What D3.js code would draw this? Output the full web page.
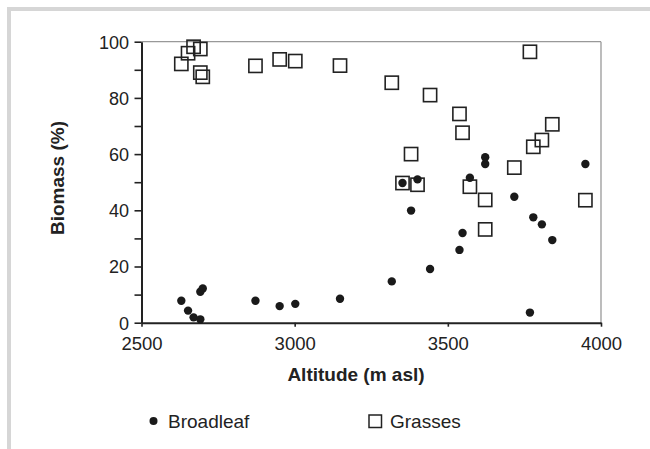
<!DOCTYPE html>
<html>
<head>
<meta charset="utf-8">
<script src="https://cdn.jsdelivr.net/npm/d3@7"></script>
<style>
  html, body { margin: 0; padding: 0; background: #ffffff; }
  svg { display: block; }
  text { font-family: "Liberation Sans", Arial, Helvetica, sans-serif; fill: #222; }
</style>
</head>
<body>
<script>
// Data: one site per entry
const altitude  = [2630, 2652, 2670, 2692, 2692, 2700, 2872, 2951, 3002, 3148, 3317, 3352, 3380, 3401, 3442, 3538, 3548, 3572, 3622, 3622, 3717, 3768, 3779, 3807, 3841, 3949];
const broadleaf = [7.8, 4.3, 1.9, 1.2, 11.0, 12.2, 7.8, 5.9, 6.7, 8.5, 14.7, 49.7, 39.9, 51.0, 19.1, 25.9, 31.9, 51.6, 56.5, 58.9, 44.8, 3.6, 37.5, 35.0, 29.4, 56.5];
const grasses   = [92.1, 95.9, 98.2, 97.4, 89.0, 87.5, 91.4, 93.7, 93.1, 91.5, 85.4, 49.7, 60.0, 49.1, 81.0, 74.3, 67.6, 48.4, 43.7, 33.2, 55.2, 96.4, 62.6, 65.0, 70.6, 43.6];
const xTicks = [2500, 3000, 3500, 4000];
const yTicks = [0, 10, 20, 30, 40, 50, 60, 70, 80, 90, 100];
const yLabelTicks = [0, 20, 40, 60, 80, 100];
const seriesNames = ["Broadleaf", "Grasses"];
const xTitle = "Altitude (m asl)";
const yTitle = "Biomass (%)";

const W = 650, H = 449;
const svg = d3.select("body").append("svg").attr("width", W).attr("height", H);

// outer frame bands
svg.append("rect").attr("x", 7).attr("y", 7).attr("width", W - 7).attr("height", 4).attr("fill", "#d6d6d6");
svg.append("rect").attr("x", 7).attr("y", 7).attr("width", 4).attr("height", H - 7).attr("fill", "#d6d6d6");

const x = d3.scaleLinear().domain([2500, 4000]).range([141.5, 601]);
const y = d3.scaleLinear().domain([0, 100]).range([322.7, 41.7]);

// top and right border of plot area
svg.append("line").attr("x1", x(2500)).attr("x2", x(4000)).attr("y1", y(100)).attr("y2", y(100))
  .attr("stroke", "#999").attr("stroke-width", 1.3);
svg.append("line").attr("x1", x(4000)).attr("x2", x(4000)).attr("y1", y(100)).attr("y2", y(0))
  .attr("stroke", "#999").attr("stroke-width", 1.3);

// Y axis
const yAxis = d3.axisLeft(y).tickValues(yTicks).tickSize(7).tickSizeOuter(0)
  .tickFormat(d => yLabelTicks.includes(d) ? String(d) : "");
const gy = svg.append("g").attr("transform", `translate(${x(2500)},0)`).call(yAxis);
gy.select(".domain").attr("stroke", "#222").attr("stroke-width", 2);
gy.selectAll(".tick line").attr("stroke", "#222").attr("stroke-width", 1.6);
gy.selectAll(".tick text").attr("x", -12.5).attr("dy", "0.36em")
  .style("font-size", "18px").style("font-family", "'Liberation Sans', Arial, sans-serif").attr("fill", "#222");

// X axis
const xAxis = d3.axisBottom(x).tickValues(xTicks).tickSize(4).tickSizeOuter(0).tickFormat(d => String(d));
const gx = svg.append("g").attr("transform", `translate(0,${y(0)})`).call(xAxis);
gx.select(".domain").attr("stroke", "#222").attr("stroke-width", 2);
gx.selectAll(".tick line").attr("stroke", "#222").attr("stroke-width", 1.6);
gx.selectAll(".tick text").attr("y", 27.3).attr("dy", 0)
  .style("font-size", "18.5px").style("font-family", "'Liberation Sans', Arial, sans-serif").attr("fill", "#222");

// axis titles
svg.append("text").attr("x", 356).attr("y", 381)
  .attr("text-anchor", "middle").style("font-size", "19px").style("font-weight", "bold").text(xTitle);
svg.append("text").attr("transform", "translate(63.5,178) rotate(-90)")
  .attr("text-anchor", "middle").style("font-size", "19px").style("font-weight", "bold").text(yTitle);

// Grasses squares (no fill)
const sq = 13.2;
svg.append("g").selectAll("rect").data(altitude.map((a, i) => [a, grasses[i]])).join("rect")
  .attr("x", d => x(d[0]) - sq / 2).attr("y", d => y(d[1]) - sq / 2)
  .attr("width", sq).attr("height", sq)
  .attr("fill", "none").attr("stroke", "#222").attr("stroke-width", 1.6);

// Broadleaf dots
svg.append("g").selectAll("circle").data(altitude.map((a, i) => [a, broadleaf[i]])).join("circle")
  .attr("cx", d => x(d[0])).attr("cy", d => y(d[1])).attr("r", 4.2).attr("fill", "#1a1a1a");

// Legend
const lg = svg.append("g");
lg.append("circle").attr("cx", 153.5).attr("cy", 421).attr("r", 4).attr("fill", "#1a1a1a");
lg.append("text").attr("x", 168).attr("y", 428).style("font-size", "19px").text(seriesNames[0]);
lg.append("rect").attr("x", 369).attr("y", 415).attr("width", 12.5).attr("height", 12.5)
  .attr("fill", "none").attr("stroke", "#222").attr("stroke-width", 1.5);
lg.append("text").attr("x", 390).attr("y", 428).style("font-size", "19px").text(seriesNames[1]);
</script>
</body>
</html>
